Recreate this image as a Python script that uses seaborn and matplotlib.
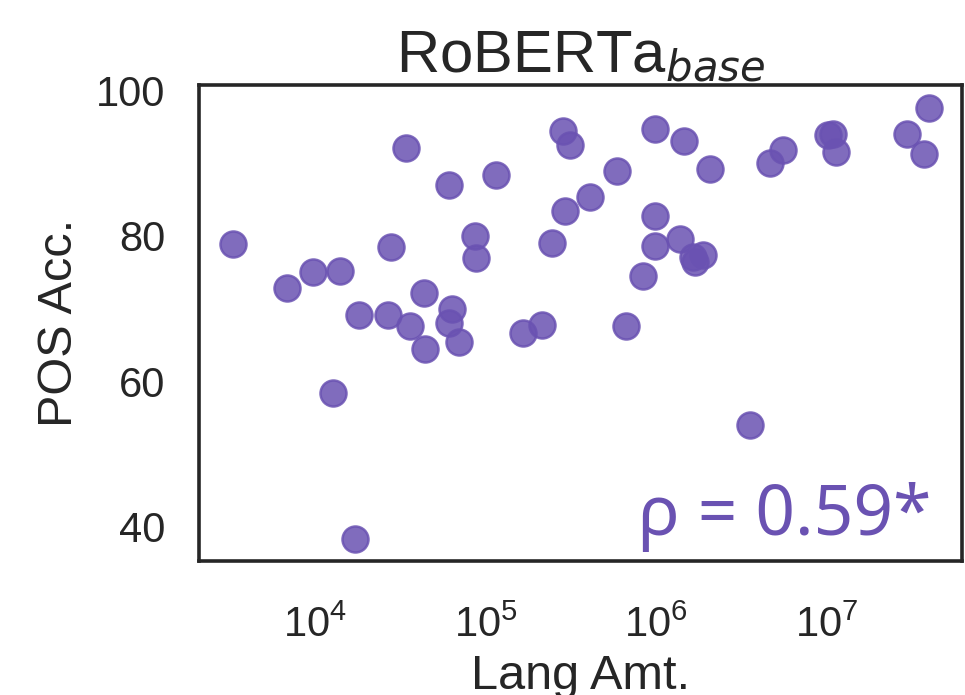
import numpy as np
import pandas as pd
import matplotlib
matplotlib.use("Agg")
import matplotlib.pyplot as plt
import seaborn as sns

# valori (Lang Amt. su scala log, POS Acc.)
lang_amt = [3320, 6820, 9770, 14030, 27930, 87000, 88500, 18110, 26920, 36060,
            43550, 44160, 63390, 61380, 70150, 12820, 17180, 34040, 61090, 114800,
            285800, 313300, 588800, 410200, 292400, 246600, 166700, 213800, 666800, 986300,
            986300, 986300, 843300, 1466000, 2075000, 1384000, 1656000, 1892000, 1694000, 4667000,
            5585000, 10260000, 10860000, 11380000, 29510000, 37330000, 39720000, 3556000]
pos_acc = [78.8, 72.8, 75.0, 75.1, 78.5, 80.0, 77.0, 69.1, 69.1, 67.6,
           72.1, 64.4, 70.0, 68.0, 65.4, 58.4, 38.3, 92.1, 87.0, 88.3,
           94.4, 92.5, 88.9, 85.3, 83.4, 79.0, 66.6, 67.7, 67.6, 94.6,
           82.7, 78.6, 74.5, 93.0, 89.2, 79.6, 77.1, 77.3, 76.4, 90.0,
           91.7, 93.8, 94.0, 91.5, 94.0, 91.2, 97.6, 54.0]
y_ticks = [40, 60, 80, 100]
titolo = "RoBERTa$_{base}$"
rho_txt = "\u03c1 = 0.59*"

colore = "#6a52b2"

sns.set_theme(style="white")
plt.rcParams["font.family"] = ["Liberation Sans", "DejaVu Sans"]

df = pd.DataFrame({"lang": lang_amt, "acc": pos_acc})

fig = plt.figure(figsize=(9.65, 6.95), dpi=100)
ax = fig.add_axes([0.2062, 0.1928, 0.7907, 0.6849])

sns.scatterplot(data=df, x="lang", y="acc", ax=ax, color=colore, s=350,
                alpha=0.85, edgecolor=colore, linewidth=1.8)

ax.set_xscale("log")
ax.set_xlim(10 ** 3.32, 10 ** 7.795)
ax.set_ylim(35.33, 100.69)
ax.set_yticks(y_ticks)
ax.set_xticks([1e4, 1e5, 1e6, 1e7])
ax.minorticks_off()

ax.tick_params(axis="both", length=0, labelsize=30, colors="#262626")
ax.tick_params(axis="x", pad=32)
ax.tick_params(axis="y", pad=24)

for sp in ax.spines.values():
    sp.set_linewidth(2.6)
    sp.set_color("#262626")

ax.set_title(titolo, fontsize=43, color="#262626", pad=9)
ax.set_xlabel("Lang Amt.", fontsize=35, color="#262626", labelpad=6)
ax.set_ylabel("POS Acc.", fontsize=35, color="#262626", labelpad=10)

ax.text(0.96, 0.055, rho_txt, transform=ax.transAxes, ha="right", va="baseline",
        fontsize=50, color=colore, family=["Noto Sans", "DejaVu Sans"])

fig.savefig("out.png", dpi=100)
